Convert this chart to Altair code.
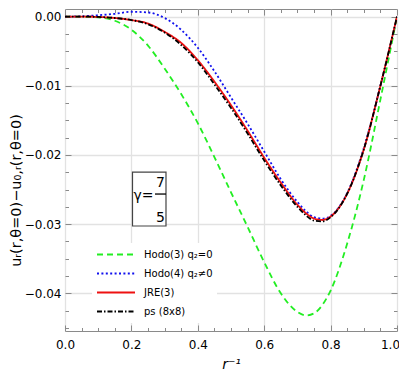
import altair as alt
import pandas as pd

# ---- data ----
r_inv = [0.0, 0.05, 0.1, 0.15, 0.2, 0.25, 0.3, 0.35, 0.4, 0.45, 0.5, 0.55,
         0.6, 0.65, 0.7, 0.725, 0.75, 0.775, 0.8, 0.85, 0.9, 0.95, 1.0]

hodo3 = [0.0, 0.0, -0.0001, -0.0006, -0.0019, -0.0042, -0.0075, -0.0112, -0.0154,
         -0.0203, -0.0254, -0.0304, -0.0355, -0.0400, -0.0427, -0.0432, -0.0429,
         -0.0417, -0.0396, -0.0328, -0.0236, -0.0120, 0.0]
hodo4 = [0.0, 0.00005, 0.0002, 0.0004, 0.0007, 0.0006, -0.0002, -0.0019, -0.0045,
         -0.0079, -0.0117, -0.0155, -0.0195, -0.0235, -0.0268, -0.0281, -0.0290,
         -0.0292, -0.0288, -0.0255, -0.0190, -0.0100, 0.0]
jre3 = [0.0, 0.0, -0.00005, -0.0002, -0.0005, -0.0010, -0.0022, -0.0038, -0.0063,
        -0.0094, -0.0128, -0.0165, -0.0204, -0.0240, -0.0272, -0.0284, -0.0292,
        -0.0294, -0.0289, -0.0256, -0.0192, -0.0100, 0.0]
ps8 = [0.0, 0.0, -0.00005, -0.0002, -0.0005, -0.0011, -0.0023, -0.0041, -0.0066,
       -0.0098, -0.0132, -0.0169, -0.0208, -0.0244, -0.0275, -0.0287, -0.0295,
       -0.0296, -0.0290, -0.0256, -0.0192, -0.0100, 0.0]

series_names = ["Hodo(3) q₂=0", "Hodo(4) q₂≠0", "JRE(3)", "ps (8x8)"]
series_colors = ["#22ee22", "#1010ee", "#ee1111", "#000000"]
series_dash = [[6, 4], [2, 2.4], [1, 0], [5, 2, 1.5, 2]]

x_major = [0.0, 0.2, 0.4, 0.6, 0.8, 1.0]
y_major = [0.0, -0.01, -0.02, -0.03, -0.04]
x_minor = [i * 0.05 for i in range(21)]
y_minor = [-i * 0.0025 for i in range(19)]

gamma_label = "γ="
gamma_num = "7"
gamma_den = "5"

W, H = 332, 322
X_DOM = [0.0, 1.0]
Y_DOM = [-0.04545, 0.0011]

rows = []
for name, ys in zip(series_names, [hodo3, hodo4, jre3, ps8]):
    for xv, yv in zip(r_inv, ys):
        rows.append({"series": name, "x": xv, "y": yv})
df = pd.DataFrame(rows)

xs = alt.Scale(domain=X_DOM, nice=False, zero=False)
ys_ = alt.Scale(domain=Y_DOM, nice=False, zero=False)

FRAME = "#8a8a8a"
GRID = "#e2e2e2"

x_tick_size = {"condition": {"test": "abs(datum.value*5 - round(datum.value*5)) < 0.001", "value": 6}, "value": 3.5}
y_tick_size = {"condition": {"test": "abs(datum.value*100 - round(datum.value*100)) < 0.001", "value": 6}, "value": 3.5}
x_label_shift = {"condition": {"test": "datum.value >= 0.999", "value": -7}, "value": 0}

# main x / y axes (labels + grid)
ax_x1 = alt.Axis(orient="bottom", values=x_major, format=".1f", grid=True, gridColor=GRID,
                 gridWidth=1.3, ticks=False, domain=False, labelFontSize=12, labelPadding=8,
                 labelOffset=x_label_shift,
                 labelColor="#000", title="r⁻¹", titleFontSize=14, titleFontWeight="normal",
                 titleFontStyle="italic", titlePadding=7, labelFont="DejaVu Sans",
                 titleFont="DejaVu Sans", labelFlush=False, titleColor="#000")
ax_y1 = alt.Axis(orient="left", values=y_major, format=".2f", grid=True, gridColor=GRID,
                 gridWidth=1.3, ticks=False, domain=False, labelFontSize=12, labelPadding=4,
                 labelColor="#000", title="uᵣ(r,θ=0)−u₀,ᵣ(r,θ=0)", titleFontSize=14.5,
                 titleFontWeight="normal", titlePadding=1, labelFont="DejaVu Sans",
                 titleFont="DejaVu Sans", labelFlush=False, titleAngle=270,
                 titleY=181, titleColor="#000")
# inward ticks bottom / left
ax_x2 = alt.Axis(orient="top", offset=-H, values=x_minor, labels=False, grid=False, domain=False,
                 tickSize=x_tick_size, tickColor=FRAME, tickWidth=1, title=None)
ax_y2 = alt.Axis(orient="right", offset=-W, values=y_minor, labels=False, grid=False, domain=False,
                 tickSize=y_tick_size, tickColor=FRAME, tickWidth=1, title=None)
# inward ticks top / right
ax_x3 = alt.Axis(orient="bottom", offset=-H, values=x_minor, labels=False, grid=False, domain=False,
                 tickSize=x_tick_size, tickColor=FRAME, tickWidth=1, title=None)
ax_y3 = alt.Axis(orient="left", offset=-W, values=y_minor, labels=False, grid=False, domain=False,
                 tickSize=y_tick_size, tickColor=FRAME, tickWidth=1, title=None)

lines = alt.Chart(df).mark_line(strokeWidth=1.8, clip=True, interpolate="monotone").encode(
    x=alt.X("x:Q", scale=xs, axis=ax_x1),
    y=alt.Y("y:Q", scale=ys_, axis=ax_y1),
    color=alt.Color("series:N", scale=alt.Scale(domain=series_names, range=series_colors),
                    sort=series_names,
                    legend=alt.Legend(title=None, orient="none", legendX=27, legendY=234,
                                      symbolType="stroke", symbolSize=1444, symbolStrokeWidth=2,
                                      labelFontSize=10, labelFont="DejaVu Sans", labelOffset=8,
                                      clipHeight=15, rowPadding=4, padding=4, fillColor="white",
                                      labelColor="#000")),
    strokeDash=alt.StrokeDash("series:N", scale=alt.Scale(domain=series_names, range=series_dash),
                              sort=series_names, legend=alt.Legend(title=None)),
    order=alt.Order("x:Q"),
)

# gamma annotation box (data coordinates)
ann_box = pd.DataFrame({"x": [0.2033], "x2": [0.3042], "y": [-0.02247], "y2": [-0.03027]})
box = alt.Chart(ann_box).mark_rect(fill="white", stroke="#444", strokeWidth=1.2).encode(
    x=alt.X("x:Q", scale=xs, axis=ax_x2), x2="x2:Q",
    y=alt.Y("y:Q", scale=ys_, axis=ax_y2), y2="y2:Q")

ann_txt = pd.DataFrame({"x": [0.2364, 0.2877, 0.2877], "y": [-0.02594, -0.02406, -0.02912],
                        "t": [gamma_label, gamma_num, gamma_den]})
txt = alt.Chart(ann_txt).mark_text(fontSize=14, font="DejaVu Sans", color="#000").encode(
    x=alt.X("x:Q", scale=xs, axis=ax_x3),
    y=alt.Y("y:Q", scale=ys_, axis=ax_y3),
    text="t:N")

ann_bar = pd.DataFrame({"x": [0.2711], "x2": [0.3042], "y": [-0.02565]})
bar = alt.Chart(ann_bar).mark_rule(color="#000", strokeWidth=1.3).encode(
    x=alt.X("x:Q", scale=xs, axis=None), x2="x2:Q",
    y=alt.Y("y:Q", scale=ys_, axis=None))

chart = alt.layer(lines, box, txt, bar).resolve_axis(
    x="independent", y="independent"
).properties(
    width=W, height=H,
    autosize=alt.AutoSizeParams(type="none"),
    padding={"left": 57, "top": 1, "right": 2, "bottom": 41},
).configure_view(stroke=FRAME, strokeWidth=1)

chart.save("out.html", embed_options={"renderer": "svg", "actions": False})
